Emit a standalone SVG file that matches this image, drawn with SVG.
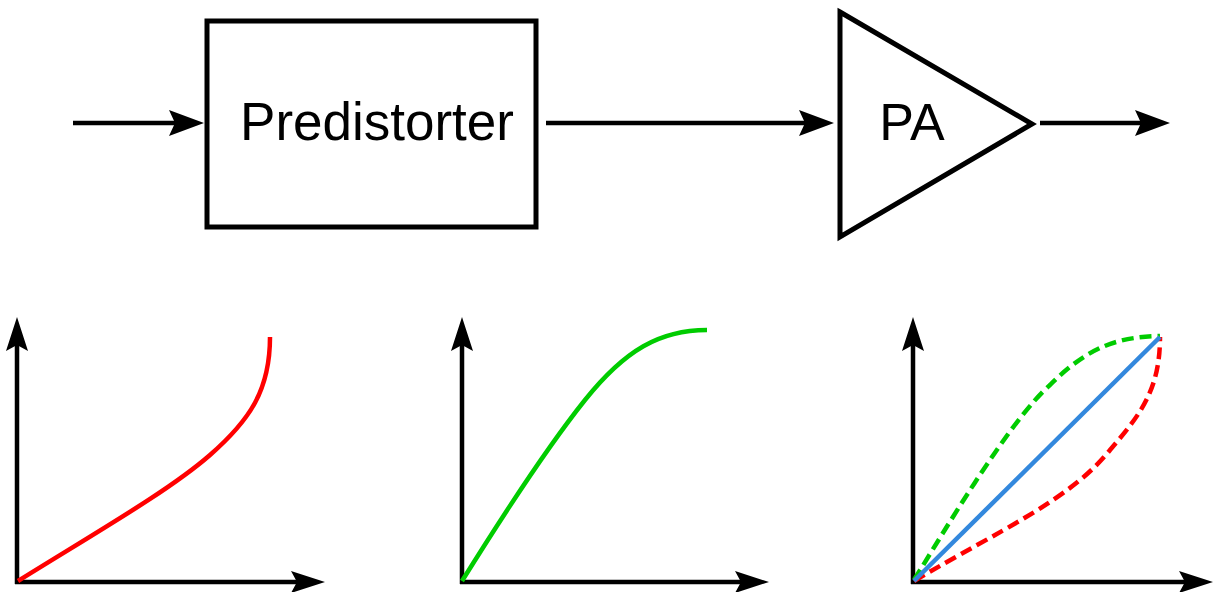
<svg xmlns="http://www.w3.org/2000/svg" width="1214" height="592" viewBox="0 0 1214 592">
<style>
  .node { fill: #ffffff; stroke: #000000; stroke-width: 5; }
  .label { font-family: "Liberation Sans", Arial, sans-serif; fill: #000000; text-anchor: middle; }
  .wire { fill: none; stroke: #000000; stroke-width: 4.5; }
  .axis { fill: none; stroke: #000000; stroke-width: 4.5; }
  .curve { fill: none; stroke-width: 4.5; stroke-linecap: butt; }
  .dash { stroke-dasharray: 12 6; }
</style>
<defs>
  <marker id="arrowBig" markerUnits="userSpaceOnUse" markerWidth="40" markerHeight="30" refX="15" refY="13" orient="auto" viewBox="0 0 40 30">
    <path d="M0,0 L35,13 L0,26 L6,13 Z" fill="#000000"/>
  </marker>
  <marker id="arrowAxis" markerUnits="userSpaceOnUse" markerWidth="40" markerHeight="30" refX="14" refY="11" orient="auto" viewBox="0 0 40 30">
    <path d="M0,0 L34,11 L0,22 L6,11 Z" fill="#000000"/>
  </marker>
</defs>

<g id="connectors">
  <line class="wire" x1="73" y1="123" x2="184" y2="123" marker-end="url(#arrowBig)"/>
  <line class="wire" x1="546" y1="123" x2="814" y2="123" marker-end="url(#arrowBig)"/>
  <line class="wire" x1="1040" y1="123" x2="1150" y2="123" marker-end="url(#arrowBig)"/>
</g>

<g id="predistorter">
  <rect class="node" x="207" y="21" width="329" height="206"/>
  <text class="label" x="377" y="140" font-size="53">Predistorter</text>
</g>

<g id="pa">
  <polygon class="node" points="840,12 1032,124 840,237"/>
  <text class="label" x="912" y="140" font-size="52">PA</text>
</g>

<g id="chart-predistorter">
  <line class="axis" x1="17" y1="584" x2="17" y2="337" marker-end="url(#arrowAxis)"/>
  <line class="axis" x1="15" y1="582" x2="305" y2="582" marker-end="url(#arrowAxis)"/>
  <path class="curve" stroke="#ff0000" d="M18,581 C100,530 170,490 210,455 C250,420 270,390 270,337"/>
</g>

<g id="chart-pa">
  <line class="axis" x1="462" y1="584" x2="462" y2="337" marker-end="url(#arrowAxis)"/>
  <line class="axis" x1="460" y1="582" x2="749" y2="582" marker-end="url(#arrowAxis)"/>
  <path class="curve" stroke="#00cc00" d="M462,581 C500,520 545,450 585,400 C625,350 660,330 707,330"/>
</g>

<g id="chart-combined">
  <line class="axis" x1="913" y1="584" x2="913" y2="337" marker-end="url(#arrowAxis)"/>
  <line class="axis" x1="911" y1="582" x2="1193" y2="582" marker-end="url(#arrowAxis)"/>
  <path class="curve dash" stroke="#00cc00" d="M914,580 C945,530 1010,420 1050,385 C1090,345 1120,337 1160,336"/>
  <path class="curve dash" stroke="#ff0000" d="M914,581 C1000,530 1070,500 1110,450 C1140,415 1160,390 1160,337"/>
  <line class="curve" stroke="#3388dd" x1="914" y1="581" x2="1160" y2="337"/>
</g>
</svg>
